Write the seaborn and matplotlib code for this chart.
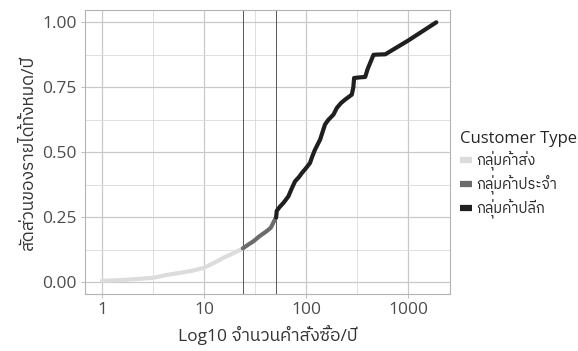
import numpy as np
import pandas as pd
import matplotlib
matplotlib.use("Agg")
import matplotlib.pyplot as plt
from matplotlib import font_manager
import seaborn as sns

# ---- data ----
wholesale_x = [1, 1.5, 2.2, 3.2, 4.2, 5.8, 7.5, 9.9, 12.5, 15.5, 19.5, 24]
wholesale_y = [0.006, 0.009, 0.013, 0.018, 0.028, 0.037, 0.044, 0.056, 0.075, 0.095, 0.113, 0.131]

regular_x = [24, 27, 30.4, 35, 41, 45, 48, 50.8]
regular_y = [0.131, 0.145, 0.158, 0.178, 0.197, 0.21, 0.232, 0.25]

retail_x = [50.8, 51.5, 55, 60, 67, 72, 78, 85, 91, 100, 109, 115, 122, 137, 153,
            165, 185, 200, 220, 241, 280, 290, 295, 330, 379, 400, 457, 500, 596, 1000, 1883]
retail_y = [0.25, 0.275, 0.29, 0.306, 0.331, 0.36, 0.389, 0.405, 0.421, 0.44, 0.459, 0.485,
            0.51, 0.549, 0.607, 0.625, 0.645, 0.671, 0.69, 0.703, 0.722, 0.75, 0.786, 0.788,
            0.79, 0.82, 0.875, 0.876, 0.877, 0.93, 1.0]

groups = ["กลุ่มค้าส่ง", "กลุ่มค้าประจำ", "กลุ่มค้าปลีก"]
colors = ["#dcdcdc", "#6b6b6b", "#1f1f1f"]
cut_points = [24, 50.8]

df = pd.concat([
    pd.DataFrame({"orders": wholesale_x, "share": wholesale_y, "Customer Type": groups[0]}),
    pd.DataFrame({"orders": regular_x, "share": regular_y, "Customer Type": groups[1]}),
    pd.DataFrame({"orders": retail_x, "share": retail_y, "Customer Type": groups[2]}),
])

sns.set_style("white")
thai = [f.name for f in font_manager.fontManager.ttflist if "Thai" in f.name]
plt.rcParams["font.family"] = ["Open Sans"] + sorted(set(thai)) + ["DejaVu Sans"]

fig = plt.figure(figsize=(5.78, 3.51), dpi=100)
ax = fig.add_axes([0.147, 0.162, 0.632, 0.81])

ax.set_xscale("log")
ax.set_xlim(0.681, 2582)
ax.set_ylim(-0.045, 1.048)

# grid like ggplot theme_light
for v in [1, 10, 100, 1000]:
    ax.axvline(v, color="#c9c9c9", lw=0.9, zorder=0)
for v in [10 ** 0.5, 10 ** 1.5, 10 ** 2.5]:
    ax.axvline(v, color="#d9d9d9", lw=0.6, zorder=0)
for v in [0, 0.25, 0.5, 0.75, 1.0]:
    ax.axhline(v, color="#c9c9c9", lw=0.9, zorder=0)
for v in [0.125, 0.375, 0.625, 0.875]:
    ax.axhline(v, color="#d9d9d9", lw=0.6, zorder=0)
for c in cut_points:
    ax.axvline(c, color="#555555", lw=0.7, zorder=1)

sns.lineplot(data=df, x="orders", y="share", hue="Customer Type",
             palette=dict(zip(groups, colors)), hue_order=groups,
             estimator=None, sort=True, lw=3, ax=ax, zorder=3)

ax.set_xticks([1, 10, 100, 1000])
ax.set_xticklabels(["1", "10", "100", "1000"])
ax.xaxis.set_minor_locator(matplotlib.ticker.NullLocator())
ax.set_yticks([0, 0.25, 0.5, 0.75, 1.0])
ax.set_yticklabels(["0.00", "0.25", "0.50", "0.75", "1.00"])
ax.tick_params(axis="both", labelsize=12.5, labelcolor="#4d4d4d", color="#b3b3b3",
               length=3, width=0.6, direction="out", bottom=True, left=True, pad=3)
for s in ax.spines.values():
    s.set_color("#b3b3b3")
    s.set_linewidth(0.8)

ax.set_xlabel("Log10 จำนวนคำสั่งซื้อ/ปี", fontsize=12.5, color="#333333", labelpad=5)
ax.set_ylabel("สัดส่วนของรายได้ทั้งหมด/ปี", fontsize=12.5, color="#333333", labelpad=4)

leg = ax.legend(title="Customer Type", loc="center left", bbox_to_anchor=(0.99, 0.42),
                frameon=False, fontsize=10.5, title_fontsize=12, handlelength=0.85,
                handletextpad=0.3, labelspacing=0.3, alignment="left")
for line in leg.get_lines():
    line.set_linewidth(4.5)
    line.set_solid_capstyle("butt")

fig.savefig("out.png", dpi=100)
